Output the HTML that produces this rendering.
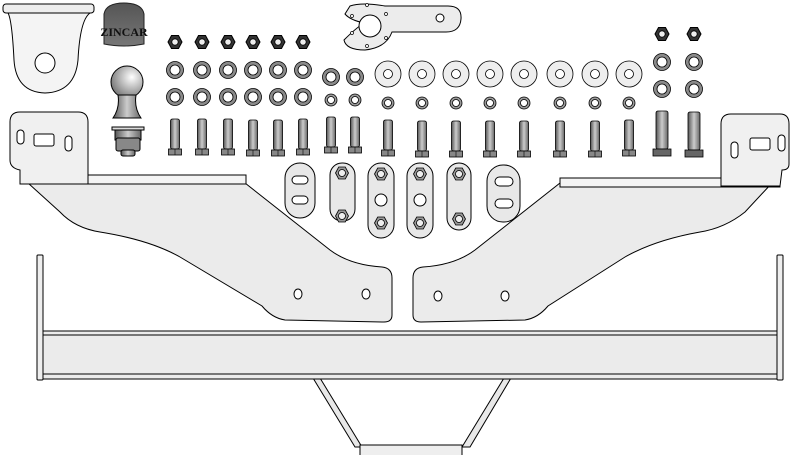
<!DOCTYPE html>
<html><head><meta charset="utf-8"><style>
html,body{margin:0;padding:0;background:#fff;width:800px;height:455px;overflow:hidden}
svg{display:block}
</style></head><body>
<svg width="800" height="455" viewBox="0 0 800 455" xmlns="http://www.w3.org/2000/svg" font-family="Liberation Serif, serif">
<defs>
<linearGradient id="bg" x1="0" x2="1"><stop offset="0" stop-color="#555"/><stop offset="0.5" stop-color="#ccc"/><stop offset="1" stop-color="#666"/></linearGradient>
<radialGradient id="ball" cx="0.65" cy="0.35" r="0.7"><stop offset="0" stop-color="#fff"/><stop offset="1" stop-color="#777"/></radialGradient>
<linearGradient id="cap" x1="0" x2="0" y1="0" y2="1"><stop offset="0" stop-color="#555"/><stop offset="1" stop-color="#777"/></linearGradient>
<g id="nut"><polygon points="-7,0 -3.5,-6.5 3.5,-6.5 7,0 3.5,6.5 -3.5,6.5" fill="#333" stroke="#000"/><circle r="3.2" fill="#eee" stroke="#000" stroke-width="0.8"/></g>
<g id="gw"><circle r="8.5" fill="#8a8a8a" stroke="#000" stroke-width="0.8"/><circle r="5" fill="#fff" stroke="#000" stroke-width="0.8"/></g>
<g id="sw"><circle r="6" fill="#999" stroke="#000" stroke-width="0.8"/><circle r="3.5" fill="#fff" stroke="#000" stroke-width="0.8"/></g>
<g id="ww"><circle r="13" fill="#eee" stroke="#000" stroke-width="0.8"/><circle r="4.5" fill="#fff" stroke="#000" stroke-width="0.8"/></g>
<g id="sbolt"><rect x="-4.5" y="0" width="9" height="30" rx="2" fill="url(#bg)" stroke="#000" stroke-width="0.8"/><rect x="-6.5" y="30" width="13" height="6" fill="#888" stroke="#000" stroke-width="0.8"/><line x1="0" y1="30" x2="0" y2="36" stroke="#000" stroke-width="0.6"/></g>
<g id="bbolt"><rect x="-6" y="0" width="12" height="38" rx="2" fill="url(#bg)" stroke="#000" stroke-width="0.8"/><rect x="-9" y="38" width="18" height="7" fill="#666" stroke="#000" stroke-width="0.8"/></g>
<g id="pn"><polygon points="-6.5,0 -3.3,-6 3.3,-6 6.5,0 3.3,6 -3.3,6" fill="#999" stroke="#000" stroke-width="0.8"/><circle r="3.5" fill="#eee" stroke="#000" stroke-width="0.8"/></g>
</defs>
<g stroke="#000" stroke-width="1" fill="#e8e8e8">
<rect x="3" y="4" width="91" height="9" rx="3" fill="#eee"/>
<path d="M8,13 L90,13 Q80,20 78,60 Q75,92 45,93 Q16,92 14,60 Q12,20 8,13 Z" fill="#f4f4f4"/>
<circle cx="45" cy="63" r="10" fill="#fff"/>
<path d="M104,44 L104,14 Q106,3 124,3 Q142,3 144,14 L144,44 Q124,48 104,44Z" fill="url(#cap)" stroke="#222"/>
<text x="124" y="36" font-size="12" fill="#111" stroke="none" text-anchor="middle" font-weight="bold">ZINCAR</text>
<circle cx="127" cy="82" r="16" fill="url(#ball)"/>
<path d="M118,95 Q120,108 113,118 L141,118 Q134,108 136,95Z" fill="url(#bg)"/>
<rect x="112" y="127" width="32" height="3" fill="#ddd"/>
<rect x="115" y="130" width="26" height="10" fill="url(#bg)"/>
<rect x="116" y="138" width="24" height="13" rx="2" fill="#888"/>
<rect x="121" y="150" width="14" height="6" rx="2" fill="url(#bg)"/>
<path d="M350,6 Q362,2 385,6 L448,6 Q462,6 461,19 Q460,32 446,32 L392,32 Q386,48 365,50 Q346,50 344,40 Q356,28 364,23 Q350,20 345,14 Z" fill="#ececec"/>
<circle cx="370" cy="26" r="11" fill="#fff"/>
<circle cx="440" cy="18" r="4" fill="#fff"/>
<g fill="#fff" stroke-width="0.7"><circle cx="367" cy="5" r="1.5"/><circle cx="386" cy="14" r="1.5"/><circle cx="386" cy="38" r="1.5"/><circle cx="367" cy="46" r="1.5"/><circle cx="352" cy="33" r="1.5"/><circle cx="352" cy="16" r="1.5"/></g>
</g>
<g stroke-width="1">
<use href="#nut" x="175" y="42"/><use href="#nut" x="202" y="42"/><use href="#nut" x="228" y="42"/><use href="#nut" x="253" y="42"/><use href="#nut" x="278" y="42"/><use href="#nut" x="303" y="42"/>
<use href="#gw" x="175" y="70"/><use href="#gw" x="202" y="70"/><use href="#gw" x="228" y="70"/><use href="#gw" x="253" y="70"/><use href="#gw" x="278" y="70"/><use href="#gw" x="303" y="70"/>
<use href="#gw" x="175" y="97"/><use href="#gw" x="202" y="97"/><use href="#gw" x="228" y="97"/><use href="#gw" x="253" y="97"/><use href="#gw" x="278" y="97"/><use href="#gw" x="303" y="97"/>
<use href="#gw" x="331" y="77"/><use href="#gw" x="355" y="77"/>
<use href="#sw" x="331" y="100"/><use href="#sw" x="355" y="100"/>
<use href="#sbolt" x="175" y="119"/><use href="#sbolt" x="202" y="119"/><use href="#sbolt" x="228" y="119"/><use href="#sbolt" x="253" y="120"/><use href="#sbolt" x="278" y="120"/><use href="#sbolt" x="303" y="119"/><use href="#sbolt" x="331" y="117"/><use href="#sbolt" x="355" y="117"/>
<use href="#ww" x="388" y="74"/><use href="#ww" x="422" y="74"/><use href="#ww" x="456" y="74"/><use href="#ww" x="490" y="74"/><use href="#ww" x="524" y="74"/><use href="#ww" x="560" y="74"/><use href="#ww" x="595" y="74"/><use href="#ww" x="629" y="74"/>
<use href="#sw" x="388" y="103"/><use href="#sw" x="422" y="103"/><use href="#sw" x="456" y="103"/><use href="#sw" x="490" y="103"/><use href="#sw" x="524" y="103"/><use href="#sw" x="560" y="103"/><use href="#sw" x="595" y="103"/><use href="#sw" x="629" y="103"/>
<use href="#sbolt" x="388" y="120"/><use href="#sbolt" x="422" y="121"/><use href="#sbolt" x="456" y="121"/><use href="#sbolt" x="490" y="121"/><use href="#sbolt" x="524" y="121"/><use href="#sbolt" x="560" y="121"/><use href="#sbolt" x="595" y="121"/><use href="#sbolt" x="629" y="120"/>
<use href="#nut" x="662" y="34"/><use href="#nut" x="694" y="34"/>
<use href="#gw" x="662" y="62"/><use href="#gw" x="694" y="62"/>
<use href="#gw" x="662" y="89"/><use href="#gw" x="694" y="89"/>
<use href="#bbolt" x="662" y="111"/><use href="#bbolt" x="694" y="112"/>
</g>
<g stroke="#000" stroke-width="1" fill="#e8e8e8">
<rect x="285" y="163" width="30" height="55" rx="15"/>
<rect x="292" y="176" width="16" height="8" rx="4" fill="#fff"/><rect x="292" y="196" width="16" height="8" rx="4" fill="#fff"/>
<rect x="330" y="163" width="25" height="58" rx="12"/>
<rect x="368" y="163" width="26" height="75" rx="13"/>
<rect x="407" y="163" width="26" height="75" rx="13"/>
<rect x="447" y="163" width="24" height="67" rx="12"/>
<rect x="487" y="165" width="33" height="57" rx="16"/>
<rect x="495" y="177" width="18" height="9" rx="4.5" fill="#fff"/><rect x="495" y="199" width="18" height="9" rx="4.5" fill="#fff"/>
<circle cx="381" cy="200" r="6" fill="#fff"/><circle cx="420" cy="200" r="6" fill="#fff"/>
</g>
<use href="#pn" x="342" y="173"/><use href="#pn" x="342" y="216"/>
<use href="#pn" x="381" y="174"/><use href="#pn" x="381" y="223"/>
<use href="#pn" x="420" y="174"/><use href="#pn" x="420" y="223"/>
<use href="#pn" x="459" y="174"/><use href="#pn" x="459" y="219"/>
<g stroke="#000" stroke-width="1" fill="#ebebeb">
<path d="M28,183 L245,183 L330,250 Q350,265 382,267 Q392,268 392,278 L392,315 Q392,322 384,322 L285,320 Q272,318 262,306 L180,257 Q150,240 100,232 Q75,228 60,212 Z"/>
<rect x="20" y="175" width="226" height="9" fill="#f4f4f4"/>
<path d="M20,184 L20,170 Q10,168 10,160 L10,122 Q10,112 20,112 L78,112 Q88,112 88,122 L88,184 Z" fill="#f0f0f0"/>
<rect x="17" y="130" width="7" height="14" rx="3.5" fill="#fff"/><rect x="34" y="134" width="20" height="12" rx="2" fill="#fff"/><rect x="65" y="136" width="7" height="15" rx="3.5" fill="#fff"/>
<ellipse cx="298" cy="294" rx="4" ry="5" fill="#fff"/><ellipse cx="366" cy="294" rx="4" ry="5" fill="#fff"/>
<path d="M772,183 L560,183 L475,250 Q455,265 423,267 Q413,268 413,278 L413,315 Q413,322 421,322 L525,320 Q538,318 548,306 L625,257 Q655,240 700,232 Q725,228 745,212 Z"/>
<rect x="560" y="178" width="220" height="9" fill="#f4f4f4"/>
<path d="M721,186 L721,124 Q721,114 731,114 L780,114 Q789,114 789,124 L789,164 Q789,170 782,170 L780,186 Z" fill="#f0f0f0"/>
<rect x="731" y="142" width="7" height="16" rx="3.5" fill="#fff"/><rect x="750" y="138" width="20" height="12" rx="2" fill="#fff"/><rect x="778" y="135" width="7" height="16" rx="3.5" fill="#fff"/>
<ellipse cx="438" cy="296" rx="4" ry="5" fill="#fff"/><ellipse cx="505" cy="296" rx="4" ry="5" fill="#fff"/>
<polygon points="313,378 320,378 362,447 355,447" fill="#e8e8e8"/>
<polygon points="504,378 511,378 470,447 462,447" fill="#e8e8e8"/>
<rect x="360" y="445" width="102" height="12" fill="#eee"/>
<rect x="42" y="331" width="738" height="48" fill="#ebebeb"/>
<line x1="42" y1="335" x2="780" y2="335"/><line x1="42" y1="374" x2="780" y2="374"/>
<rect x="37" y="255" width="6" height="125" rx="1" fill="#eee"/>
<rect x="777" y="255" width="6" height="125" rx="1" fill="#eee"/>
</g>
</svg>
</body></html>
